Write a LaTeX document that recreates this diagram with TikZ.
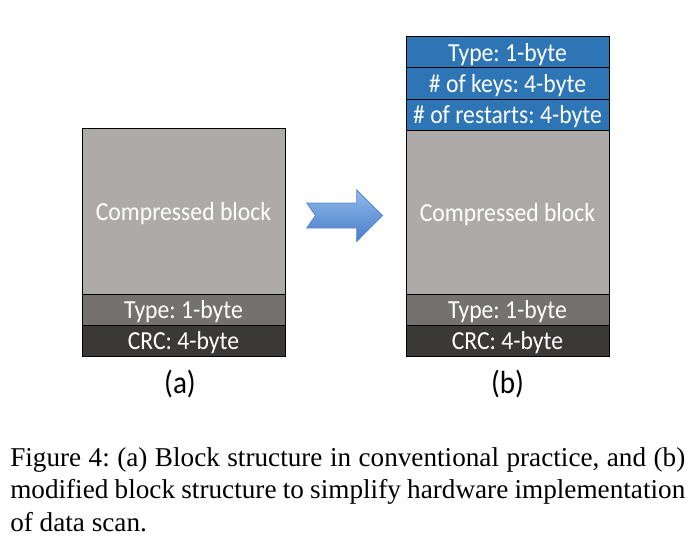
\documentclass[tikz,border=0pt]{standalone}
\usepackage{fontspec}
\usepackage{tikz}
\usetikzlibrary{positioning}
\newfontfamily\blockfont[FakeStretch=0.91]{Carlito}
\newfontfamily\capfont[FakeStretch=1.0]{Liberation Serif}
\definecolor{cmpgray}{HTML}{AEAAAA}
\definecolor{typegray}{HTML}{757171}
\definecolor{crcgray}{HTML}{3B3838}
\definecolor{hdrblue}{HTML}{2E75B6}
\definecolor{arrowtop}{RGB}{145,185,235}
\definecolor{arrowbot}{RGB}{72,125,200}
\definecolor{arrowline}{RGB}{90,135,200}
\tikzset{
  blockrow/.style={draw=black, line width=0.75pt, minimum width=152.25pt, minimum height=23.25pt,
    inner sep=0pt, outer sep=0pt, text=white, text depth=0pt, font=\blockfont\fontsize{19.5}{22}\selectfont\frenchspacing},
  caption/.style={anchor=base west, inner sep=0pt, font=\capfont\fontsize{20.4}{24}\selectfont\frenchspacing}
}
\newlength{\capw}
\setlength{\capw}{506.25pt}

\begin{document}
\begin{tikzpicture}[x=0.75pt,y=0.75pt,yscale=-1]
\useasboundingbox (0,0) rectangle (695,542);

%Block (a)
\node [blockrow, fill=cmpgray, minimum height=124.5pt] (cmpA) at (183.5,211) {Compressed block};
\node [blockrow, fill=typegray, below=0pt of cmpA] (typeA) {Type: 1-byte};
\node [blockrow, fill=crcgray, below=0pt of typeA] (crcA) {CRC: 4-byte};

%Block (b)
\node [blockrow, fill=cmpgray, minimum height=123pt] (cmpB) at (507.5,212) {Compressed block};
\node [blockrow, fill=typegray, below=0pt of cmpB] (typeB) {Type: 1-byte};
\node [blockrow, fill=crcgray, below=0pt of typeB] (crcB) {CRC: 4-byte};
\node [blockrow, fill=hdrblue, above=0pt of cmpB] (rstB) {\# of restarts: 4-byte};
\node [blockrow, fill=hdrblue, above=0pt of rstB] (keysB) {\# of keys: 4-byte};
\node [blockrow, fill=hdrblue, above=0pt of keysB] (hdrB) {Type: 1-byte};

%Shape: Notched Arrow
\draw [draw=arrowline, line width=0.6pt, top color=arrowtop, bottom color=arrowbot]
  (306.7,203) -- (356.7,203) -- (356.7,190) -- (382.5,215.5) -- (356.7,241.5)
  -- (356.7,228) -- (306.7,228) -- (315.5,215.5) -- cycle ;

% Text Node
\node [anchor=base, inner sep=0pt, font=\blockfont\fontsize{24}{26}\selectfont] (labA) at (180,393) {(a)};
% Text Node
\node [anchor=base, inner sep=0pt, font=\blockfont\fontsize{24}{26}\selectfont] (labB) at (507.5,393) {(b)};

% Caption
\node [caption] (cap1) at (10,466) {\makebox[\capw][s]{Figure 4: (a) Block structure in conventional practice, and (b)}};
\node [caption] (cap2) at (10,498.5) {\makebox[\capw][s]{modified block structure to simplify hardware implementation}};
\node [caption] (cap3) at (10,531) {of data scan.};

\end{tikzpicture}
\end{document}
